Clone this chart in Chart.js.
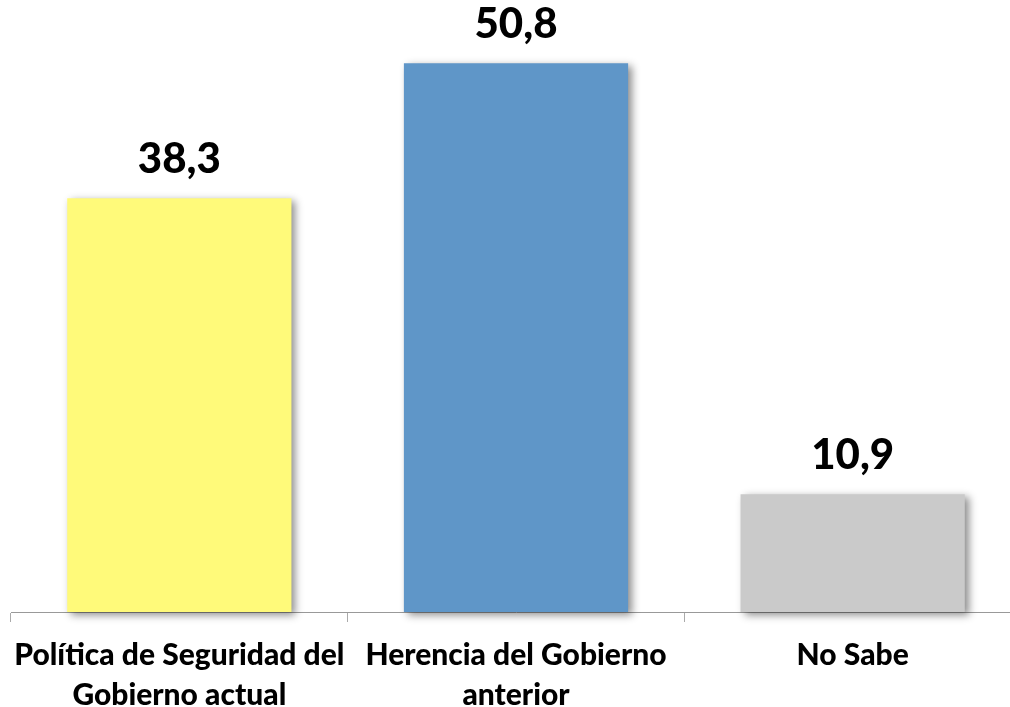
<!DOCTYPE html>
<html>
<head>
<meta charset="utf-8">
<script src="https://cdn.jsdelivr.net/npm/chart.js@4"></script>
<style>
  html, body { margin: 0; padding: 0; background: #fff; overflow: hidden; }
  #wrap { position: relative; width: 1022px; height: 707px; }
</style>
</head>
<body>
<div id="wrap"><canvas id="c" width="1022" height="707"></canvas></div>
<script>
const categories = [
  ["Política de Seguridad del", "Gobierno actual"],
  ["Herencia del Gobierno", "anterior"],
  ["No Sabe"]
];
const values = [38.3, 50.8, 10.9];
const yMin = 0;
const yMax = 55;

const barColors = ["#FFFA7A", "#5F96C8", "#CACACA"];
const FONT = "Lato, 'Open Sans', 'DejaVu Sans', sans-serif";

const shadowPlugin = {
  id: 'barShadow',
  beforeDatasetDraw(chart) {
    const ctx = chart.ctx;
    ctx.save();
    ctx.shadowColor = 'rgba(0,0,0,0.45)';
    ctx.shadowBlur = 8;
    ctx.shadowOffsetX = 4;
    ctx.shadowOffsetY = 3;
  },
  afterDatasetDraw(chart) {
    chart.ctx.restore();
  }
};

const valueLabels = {
  id: 'valueLabels',
  afterDatasetsDraw(chart) {
    const ctx = chart.ctx;
    const meta = chart.getDatasetMeta(0);
    ctx.save();
    ctx.font = "900 42px " + FONT;
    ctx.fillStyle = '#000';
    ctx.textAlign = 'center';
    ctx.textBaseline = 'alphabetic';
    meta.data.forEach((bar, i) => {
      const txt = values[i].toFixed(1).replace('.', ',');
      ctx.fillText(txt, bar.x, bar.y - 25);
    });
    ctx.restore();
  }
};

new Chart(document.getElementById('c'), {
  type: 'bar',
  data: {
    labels: categories,
    datasets: [{
      data: values,
      backgroundColor: barColors,
      borderWidth: 0,
      barPercentage: 0.666,
      categoryPercentage: 1.0,
      clip: false
    }]
  },
  options: {
    responsive: false,
    animation: false,
    devicePixelRatio: 1,
    layout: { padding: { left: 11, right: 1, top: 18, bottom: 0 } },
    plugins: { legend: { display: false }, tooltip: { enabled: false } },
    scales: {
      y: { display: false, min: yMin, max: yMax },
      x: {
        afterFit(scale) {
          scale.height = 95;
          scale.paddingLeft = 0;
          scale.paddingRight = 0;
        },
        border: { display: true, color: '#999999', width: 1 },
        grid: {
          offset: true,
          drawOnChartArea: false,
          drawTicks: true,
          tickLength: 10,
          color: '#AAAAAA',
          lineWidth: 1
        },
        ticks: {
          color: '#000',
          padding: 13,
          maxRotation: 0,
          autoSkip: false,
          font: { family: FONT, size: 30, weight: '900', lineHeight: 1.333 }
        }
      }
    }
  },
  plugins: [shadowPlugin, valueLabels]
});
</script>
</body>
</html>
